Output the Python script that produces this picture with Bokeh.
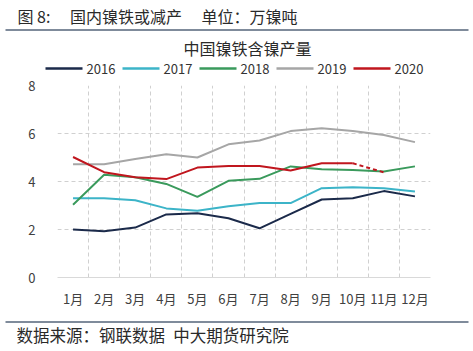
from bokeh.plotting import figure
from bokeh.models import FixedTicker, Range1d
from bokeh.layouts import column
from bokeh.core.properties import value
from bokeh.embed import file_html
from bokeh.resources import INLINE

months = ["1月", "2月", "3月", "4月", "5月", "6月", "7月", "8月", "9月", "10月", "11月", "12月"]
y2016 = [2.0, 1.93, 2.08, 2.63, 2.68, 2.47, 2.05, 2.65, 3.25, 3.3, 3.6, 3.38]
y2017 = [3.3, 3.3, 3.22, 2.88, 2.78, 2.97, 3.1, 3.1, 3.72, 3.76, 3.72, 3.58]
y2018 = [3.03, 4.28, 4.18, 3.9, 3.36, 4.03, 4.11, 4.63, 4.51, 4.48, 4.42, 4.63]
y2019 = [4.72, 4.72, 4.94, 5.14, 5.0, 5.55, 5.71, 6.1, 6.22, 6.1, 5.94, 5.64]
y2020 = [5.02, 4.39, 4.18, 4.1, 4.58, 4.65, 4.65, 4.46, 4.76, 4.76, 4.38]
series_names = ["2016", "2017", "2018", "2019", "2020"]
y_ticks = [0, 2, 4, 6, 8]
header_text = "图\u00a08:\u3000\u00a0国内镍铁或减产\u3000\u00a0单位：万镍吨"
chart_title = "中国镍铁含镍产量"
source_text = "数据来源：钢联数据\u2002中大期货研究院"

FONT = "Noto Sans CJK SC"
W = 473
TOP_H, MAIN_H, FOOT_H = 76, 236, 39
colors = {"2016": "#1b2a4a", "2017": "#3cb4c8", "2018": "#3a9a5c", "2019": "#a6a6a6", "2020": "#c0161e"}
RULE = "#55657a"
TXT = "#2a2a2a"


def blank(h, y0):
    f = figure(width=W, height=h, output_backend="svg", toolbar_location=None,
               x_range=Range1d(0, W), y_range=Range1d(y0 + h, y0),
               x_axis_location=None, y_axis_location=None,
               min_border=0, min_border_left=0, min_border_right=0,
               min_border_top=0, min_border_bottom=0)
    f.frame_align = False
    f.grid.visible = False
    f.outline_line_color = None
    f.background_fill_color = "white"
    f.border_fill_color = "white"
    return f


# ---- header: caption, rule, chart title, legend ----
top = blank(TOP_H, 0)
top.text(x=[17], y=[15], text=[header_text], text_font=value(FONT), text_font_size="16px",
         text_color=TXT, text_baseline="middle")
top.segment(x0=[5], y0=[29.5], x1=[468], y1=[29.5], line_color=RULE, line_width=1.5)
top.text(x=[247], y=[47], text=[chart_title], text_font=value(FONT), text_font_size="16px",
         text_color=TXT, text_baseline="middle", text_align="center")
# legend
leg_y = 68
leg_x0 = [45 + 77 * i for i in range(len(series_names))]
top.segment(x0=leg_x0, y0=[leg_y] * len(series_names), x1=[x + 37 for x in leg_x0],
            y1=[leg_y] * len(series_names), line_color=[colors[n] for n in series_names],
            line_width=2.5)
top.text(x=[x + 41 for x in leg_x0], y=[leg_y] * len(series_names), text=series_names,
         text_font=value(FONT), text_font_size="13px", text_color="#333333",
         text_baseline="middle")

# ---- main chart ----
p = figure(width=W, height=MAIN_H, output_backend="svg", toolbar_location=None,
           x_range=Range1d(0.5, 12.5), y_range=Range1d(0, 8),
           min_border_left=57, min_border_right=43, min_border_top=9, min_border_bottom=35)
p.frame_align = False
p.outline_line_color = None
p.background_fill_color = "white"
p.border_fill_color = "white"

xs = list(range(1, len(months) + 1))
p.xaxis.ticker = FixedTicker(ticks=xs)
p.xaxis.major_label_overrides = {i: m for i, m in zip(xs, months)}
p.yaxis.ticker = FixedTicker(ticks=y_ticks)
for ax in (p.xaxis[0], p.yaxis[0]):
    ax.major_tick_line_color = None
    ax.minor_tick_line_color = None
    ax.major_label_text_font = FONT
    ax.major_label_text_font_size = "13px"
    ax.major_label_text_color = "#404040"
p.yaxis.axis_line_color = None
p.xaxis.axis_line_color = "#d9d9d9"
p.xaxis.major_label_standoff = 5
p.yaxis.major_label_standoff = 16

p.xgrid.ticker = FixedTicker(ticks=[i + 0.5 for i in range(0, 13)])
p.ygrid.ticker = FixedTicker(ticks=y_ticks[1:])
for g in (p.xgrid[0], p.ygrid[0]):
    g.grid_line_color = "#d0d0d0"
    g.grid_line_dash = "4 3"
    g.grid_line_width = 1

for name, ys in zip(series_names[:4], [y2016, y2017, y2018, y2019]):
    p.line(xs[:len(ys)], ys, line_color=colors[name], line_width=2)
p.line(xs[:10], y2020[:10], line_color=colors["2020"], line_width=2)
p.line(xs[9:11], y2020[9:11], line_color=colors["2020"], line_width=2, line_dash="4 3")

# ---- footer: rule and source ----
y0 = TOP_H + MAIN_H
foot = blank(FOOT_H, y0)
foot.segment(x0=[5], y0=[321.5], x1=[468], y1=[321.5], line_color=RULE, line_width=1.5)
foot.text(x=[16], y=[334], text=[source_text], text_font=value(FONT), text_font_size="16.5px",
          text_color=TXT, text_baseline="middle")

layout = column(top, p, foot, spacing=0)
open("out.html", "w").write(file_html(layout, INLINE))
